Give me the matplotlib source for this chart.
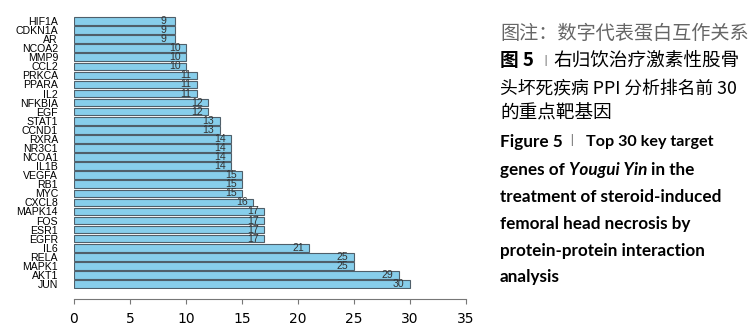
import matplotlib
matplotlib.use("Agg")
import matplotlib.pyplot as plt

genes = ["HIF1A", "CDKN1A", "AR", "NCOA2", "MMP9", "CCL2", "PRKCA", "PPARA", "IL2",
         "NFKBIA", "EGF", "STAT1", "CCND1", "RXRA", "NR3C1", "NCOA1", "IL1B", "VEGFA",
         "RB1", "MYC", "CXCL8", "MAPK14", "FOS", "ESR1", "EGFR", "IL6", "RELA", "MAPK1",
         "AKT1", "JUN"]
counts = [9, 9, 9, 10, 10, 10, 11, 11, 11, 12, 12, 13, 13, 14, 14, 14, 14, 15, 15, 15,
          16, 17, 17, 17, 17, 21, 25, 25, 29, 30]
xticks = [0, 5, 10, 15, 20, 25, 30, 35]

W, H = 750, 332
fig = plt.figure(figsize=(W / 100, H / 100), dpi=100)

# plot region in pixels
x0, x1 = 74, 466
ytop, ybot = 15.7, 289.3
ax = fig.add_axes([x0 / W, 1 - ybot / H, (x1 - x0) / W, (ybot - ytop) / H])

n = len(genes)
g_rev = genes[::-1]
c_rev = counts[::-1]
pos = [0.7 + 1.2 * i for i in range(n)]
ax.barh(pos, c_rev, height=1.0, color="#87CEEB", edgecolor="#4F5F6A", linewidth=0.8)
lfs = 7.6
for p, v in zip(pos, c_rev):
    ax.text(v - 1, p, str(v), ha="center", va="center", fontsize=lfs,
            family="Liberation Sans", color="#333333")

ax.set_xlim(0, 35)
ax.set_ylim(0, 36.2)
ax.set_yticks(pos)
ax.set_yticklabels(g_rev, fontsize=lfs, family="Liberation Sans")
ax.tick_params(axis="y", length=0, pad=11.5)
ax.set_xticks(xticks)
ax.set_xticklabels([str(t) for t in xticks], fontsize=lfs, family="Liberation Sans")
ax.tick_params(axis="x", length=3.6, width=0.8, color="#777777", pad=5.5)
for s in ["top", "right", "left"]:
    ax.spines[s].set_visible(False)
ax.spines["bottom"].set_position(("outward", 7))
ax.spines["bottom"].set_color("#777777")
ax.spines["bottom"].set_linewidth(0.8)
ax.spines["bottom"].set_bounds(0, 35)

# caption text on the right
cjk = ["Noto Sans CJK SC", "DejaVu Sans"]
lat = ["Lato", "Noto Sans CJK SC"]
tx = 500 / W
def ty(py):
    return 1 - py / H

fig.text(tx, ty(33), "图注：数字代表蛋白互作关系", family=cjk, fontsize=13.8, color="#666666", va="center")
fig.text(tx, ty(61), "图 5", family=cjk, fontsize=13.4, weight="bold", color="black", va="center")
fig.text(545.5 / W, ty(61), "丨", family=cjk, fontsize=8.8, color="#777777", va="center", ha="center")
fig.text(553.5 / W, ty(61), "右归饮治疗激素性股骨", family=cjk, fontsize=13.4, color="black", va="center")
fig.text(tx, ty(88), "头坏死疾病 PPI 分析排名前 30", family=cjk, fontsize=12.8, color="black", va="center")
fig.text(tx, ty(114), "的重点靶基因", family=cjk, fontsize=13.4, color="black", va="center")

efs = 12.3
fig.text(tx, ty(142), "Figure 5", family=lat, fontsize=efs, weight="bold", va="center")
fig.text(572 / W, ty(142), "丨", family=cjk, fontsize=9.2, color="#777777", va="center", ha="center")
fig.text(586 / W, ty(142), "Top 30 key target", family=lat, fontsize=11.6, weight="bold", va="center")
t1 = fig.text(0, 0, "genes of ", family=lat, fontsize=efs, weight="bold")
fig.canvas.draw()
r = fig.canvas.get_renderer()
w1 = t1.get_window_extent(r).width
t1.remove()
t2 = fig.text(0, 0, "Yougui Yin ", family=lat, fontsize=efs, weight="bold", style="italic")
w2 = t2.get_window_extent(r).width
t2.remove()
fig.text(tx, ty(170), "genes of ", family=lat, fontsize=efs, weight="bold", va="center")
fig.text(tx + w1 / W, ty(170), "Yougui Yin", family=lat, fontsize=efs, weight="bold", style="italic", va="center")
fig.text(tx + (w1 + w2) / W, ty(170), "in the", family=lat, fontsize=efs, weight="bold", va="center")
fig.text(tx, ty(197), "treatment of steroid-induced", family=lat, fontsize=efs, weight="bold", va="center")
fig.text(tx, ty(224), "femoral head necrosis by", family=lat, fontsize=efs, weight="bold", va="center")
fig.text(tx, ty(251), "protein-protein interaction", family=lat, fontsize=efs, weight="bold", va="center")
fig.text(tx, ty(277), "analysis", family=lat, fontsize=efs, weight="bold", va="center")

fig.savefig("out.png", dpi=100)
